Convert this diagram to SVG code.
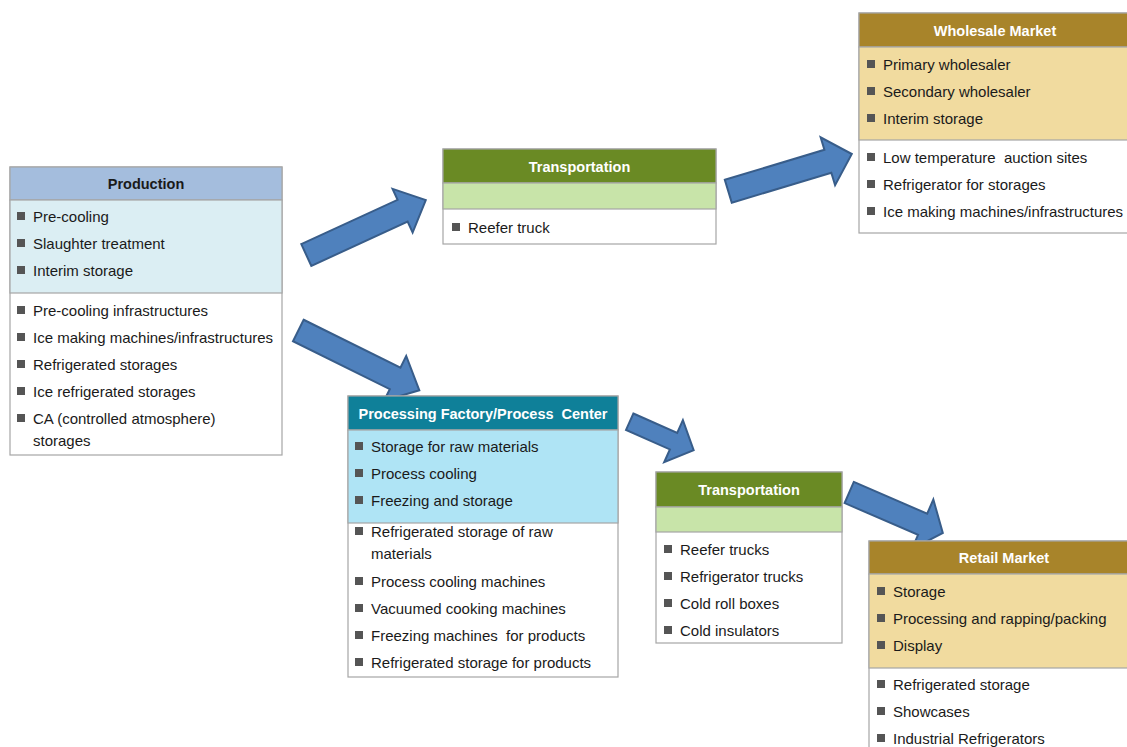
<svg xmlns="http://www.w3.org/2000/svg" width="1127" height="747" viewBox="0 0 1127 747">
<style>
.bd{stroke:#A6A6A6;stroke-width:1.2;}
.w{fill:#FFFFFF;}
.ht{font-family:"Liberation Sans",Arial,sans-serif;font-size:14.5px;font-weight:bold;fill:#FFFFFF;text-anchor:middle;white-space:pre;}
.htd{fill:#1A1A1A;}
.t{font-family:"Liberation Sans",Arial,sans-serif;font-size:15px;fill:#1A1A1A;white-space:pre;}
.b{fill:#555555;}
.arr{fill:#4F81BD;stroke:#385D8A;stroke-width:2;stroke-linejoin:miter;}
</style>
<rect width="1127" height="747" fill="#FFFFFF"/>

<g id="connectors">
  <path class="arr" transform="translate(306.3,255) rotate(-24.7)" d="M0,-12 L106,-12 L106,-24 L131.5,0 L106,24 L106,12 L0,12 Z"/>
  <path class="arr" transform="translate(298.3,330.5) rotate(26.3)" d="M0,-12 L108,-12 L108,-25 L135,0 L108,25 L108,12 L0,12 Z"/>
  <path class="arr" transform="translate(728.3,191.3) rotate(-16.8)" d="M0,-12 L104,-12 L104,-25 L129,0 L104,25 L104,12 L0,12 Z"/>
  <path class="arr" transform="translate(629.7,421.7) rotate(24)" d="M0,-9 L48,-9 L48,-23 L70,0 L48,23 L48,9 L0,9 Z"/>
  <path class="arr" transform="translate(849.2,492.5) rotate(23.4)" d="M0,-11.5 L80,-11.5 L80,-27 L102,0 L80,27 L80,11.5 L0,11.5 Z"/>
</g>

<g id="production">
  <rect class="w bd" x="10" y="167" width="272" height="288"/>
  <rect class="bd" x="10" y="167" width="272" height="33" fill="#A4BDDD"/>
  <rect class="bd" x="10" y="200" width="272" height="93" fill="#DBEEF3"/>
  <text class="ht htd" x="146" y="189">Production</text>
  <rect class="b" x="17" y="212" width="8" height="8"/><text class="t" x="33" y="222">Pre-cooling</text>
  <rect class="b" x="17" y="239" width="8" height="8"/><text class="t" x="33" y="249">Slaughter treatment</text>
  <rect class="b" x="17" y="266" width="8" height="8"/><text class="t" x="33" y="276">Interim storage</text>
  <rect class="b" x="17" y="306" width="8" height="8"/><text class="t" x="33" y="316">Pre-cooling infrastructures</text>
  <rect class="b" x="17" y="333" width="8" height="8"/><text class="t" x="33" y="343">Ice making machines/infrastructures</text>
  <rect class="b" x="17" y="360" width="8" height="8"/><text class="t" x="33" y="370">Refrigerated storages</text>
  <rect class="b" x="17" y="387" width="8" height="8"/><text class="t" x="33" y="397">Ice refrigerated storages</text>
  <rect class="b" x="17" y="414" width="8" height="8"/><text class="t" x="33" y="424">CA (controlled atmosphere)</text>
  <text class="t" x="33" y="446">storages</text>
</g>

<g id="transportation1">
  <rect class="w bd" x="443" y="149" width="273" height="95"/>
  <rect class="bd" x="443" y="149" width="273" height="34" fill="#6A8A24"/>
  <rect class="bd" x="443" y="183" width="273" height="26" fill="#C8E4A9"/>
  <text class="ht" x="579.5" y="172">Transportation</text>
  <rect class="b" x="452" y="223" width="8" height="8"/><text class="t" x="468" y="233">Reefer truck</text>
</g>

<g id="wholesale">
  <rect class="w bd" x="859" y="13" width="272" height="220"/>
  <rect class="bd" x="859" y="13" width="272" height="34" fill="#A8842A"/>
  <rect class="bd" x="859" y="47" width="272" height="93" fill="#F1DB9F"/>
  <text class="ht" x="995" y="36">Wholesale Market</text>
  <rect class="b" x="867" y="60" width="8" height="8"/><text class="t" x="883" y="70">Primary wholesaler</text>
  <rect class="b" x="867" y="87" width="8" height="8"/><text class="t" x="883" y="97">Secondary wholesaler</text>
  <rect class="b" x="867" y="114" width="8" height="8"/><text class="t" x="883" y="124">Interim storage</text>
  <rect class="b" x="867" y="153" width="8" height="8"/><text class="t" x="883" y="163">Low temperature  auction sites</text>
  <rect class="b" x="867" y="180" width="8" height="8"/><text class="t" x="883" y="190">Refrigerator for storages</text>
  <rect class="b" x="867" y="207" width="8" height="8"/><text class="t" x="883" y="217">Ice making machines/infrastructures</text>
</g>

<g id="processing">
  <rect class="w bd" x="348" y="396" width="270" height="281"/>
  <rect class="bd" x="348" y="396" width="270" height="34" fill="#0F8099"/>
  <rect class="bd" x="348" y="430" width="270" height="93" fill="#AFE4F5"/>
  <text class="ht" x="483" y="419">Processing Factory/Process  Center</text>
  <rect class="b" x="355" y="442" width="8" height="8"/><text class="t" x="371" y="452">Storage for raw materials</text>
  <rect class="b" x="355" y="469" width="8" height="8"/><text class="t" x="371" y="479">Process cooling</text>
  <rect class="b" x="355" y="496" width="8" height="8"/><text class="t" x="371" y="506">Freezing and storage</text>
  <rect class="b" x="355" y="527" width="8" height="8"/><text class="t" x="371" y="537">Refrigerated storage of raw</text>
  <text class="t" x="371" y="559">materials</text>
  <rect class="b" x="355" y="577" width="8" height="8"/><text class="t" x="371" y="587">Process cooling machines</text>
  <rect class="b" x="355" y="604" width="8" height="8"/><text class="t" x="371" y="614">Vacuumed cooking machines</text>
  <rect class="b" x="355" y="631" width="8" height="8"/><text class="t" x="371" y="641">Freezing machines  for products</text>
  <rect class="b" x="355" y="658" width="8" height="8"/><text class="t" x="371" y="668">Refrigerated storage for products</text>
</g>

<g id="transportation2">
  <rect class="w bd" x="656" y="472" width="186" height="171"/>
  <rect class="bd" x="656" y="472" width="186" height="35" fill="#6A8A24"/>
  <rect class="bd" x="656" y="507" width="186" height="25" fill="#C8E4A9"/>
  <text class="ht" x="749" y="495">Transportation</text>
  <rect class="b" x="664" y="545" width="8" height="8"/><text class="t" x="680" y="555">Reefer trucks</text>
  <rect class="b" x="664" y="572" width="8" height="8"/><text class="t" x="680" y="582">Refrigerator trucks</text>
  <rect class="b" x="664" y="599" width="8" height="8"/><text class="t" x="680" y="609">Cold roll boxes</text>
  <rect class="b" x="664" y="626" width="8" height="8"/><text class="t" x="680" y="636">Cold insulators</text>
</g>

<g id="retail">
  <rect class="w bd" x="869" y="541" width="271" height="220"/>
  <rect class="bd" x="869" y="541" width="271" height="33" fill="#A8842A"/>
  <rect class="bd" x="869" y="574" width="271" height="94" fill="#F1DB9F"/>
  <text class="ht" x="1004" y="563">Retail Market</text>
  <rect class="b" x="877" y="587" width="8" height="8"/><text class="t" x="893" y="597">Storage</text>
  <rect class="b" x="877" y="614" width="8" height="8"/><text class="t" x="893" y="624">Processing and rapping/packing</text>
  <rect class="b" x="877" y="641" width="8" height="8"/><text class="t" x="893" y="651">Display</text>
  <rect class="b" x="877" y="680" width="8" height="8"/><text class="t" x="893" y="690">Refrigerated storage</text>
  <rect class="b" x="877" y="707" width="8" height="8"/><text class="t" x="893" y="717">Showcases</text>
  <rect class="b" x="877" y="734" width="8" height="8"/><text class="t" x="893" y="744">Industrial Refrigerators</text>
</g>
</svg>
